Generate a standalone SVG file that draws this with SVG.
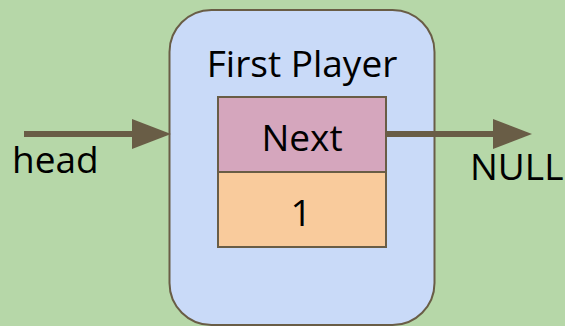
<svg xmlns="http://www.w3.org/2000/svg" width="565" height="326" viewBox="0 0 565 326">
  <style>
    .lbl { font-family: "Open Sans", "Noto Sans", sans-serif; font-size: 37px; fill: #000; }
    .edge { stroke: #695d46; stroke-width: 6; fill: none; }
    .box { stroke: #695d46; stroke-width: 2; }
  </style>
  <defs>
    <marker id="arrow" markerWidth="7" markerHeight="5" refX="0" refY="2.5" orient="auto" markerUnits="strokeWidth">
      <path d="M0,0 L6.5,2.5 L0,5 Z" fill="#695d46"/>
    </marker>
  </defs>
  <rect width="565" height="326" fill="#b6d7a8"/>

  <g id="player">
    <rect class="box" x="169.5" y="10" width="265" height="315" rx="42" fill="#c9daf8"/>
    <text class="lbl" x="302" y="77" text-anchor="middle">First Player</text>
  </g>
  <g id="next-field">
    <rect class="box" x="218" y="97" width="168" height="75" fill="#d5a6bd"/>
    <text class="lbl" x="302" y="151" text-anchor="middle">Next</text>
  </g>
  <g id="value-field">
    <rect class="box" x="218" y="172" width="168" height="75" fill="#f9cb9c"/>
    <text class="lbl" x="301" y="226" text-anchor="middle">1</text>
  </g>

  <g id="connectors">
    <line class="edge" x1="24" y1="134" x2="132" y2="134" marker-end="url(#arrow)"/>
    <line class="edge" x1="386" y1="134" x2="493" y2="134" marker-end="url(#arrow)"/>
  </g>

  <g id="head-label">
    <text class="lbl" x="12" y="173">head</text>
  </g>
  <g id="null-label">
    <text class="lbl" x="470" y="180">NULL</text>
  </g>
</svg>
